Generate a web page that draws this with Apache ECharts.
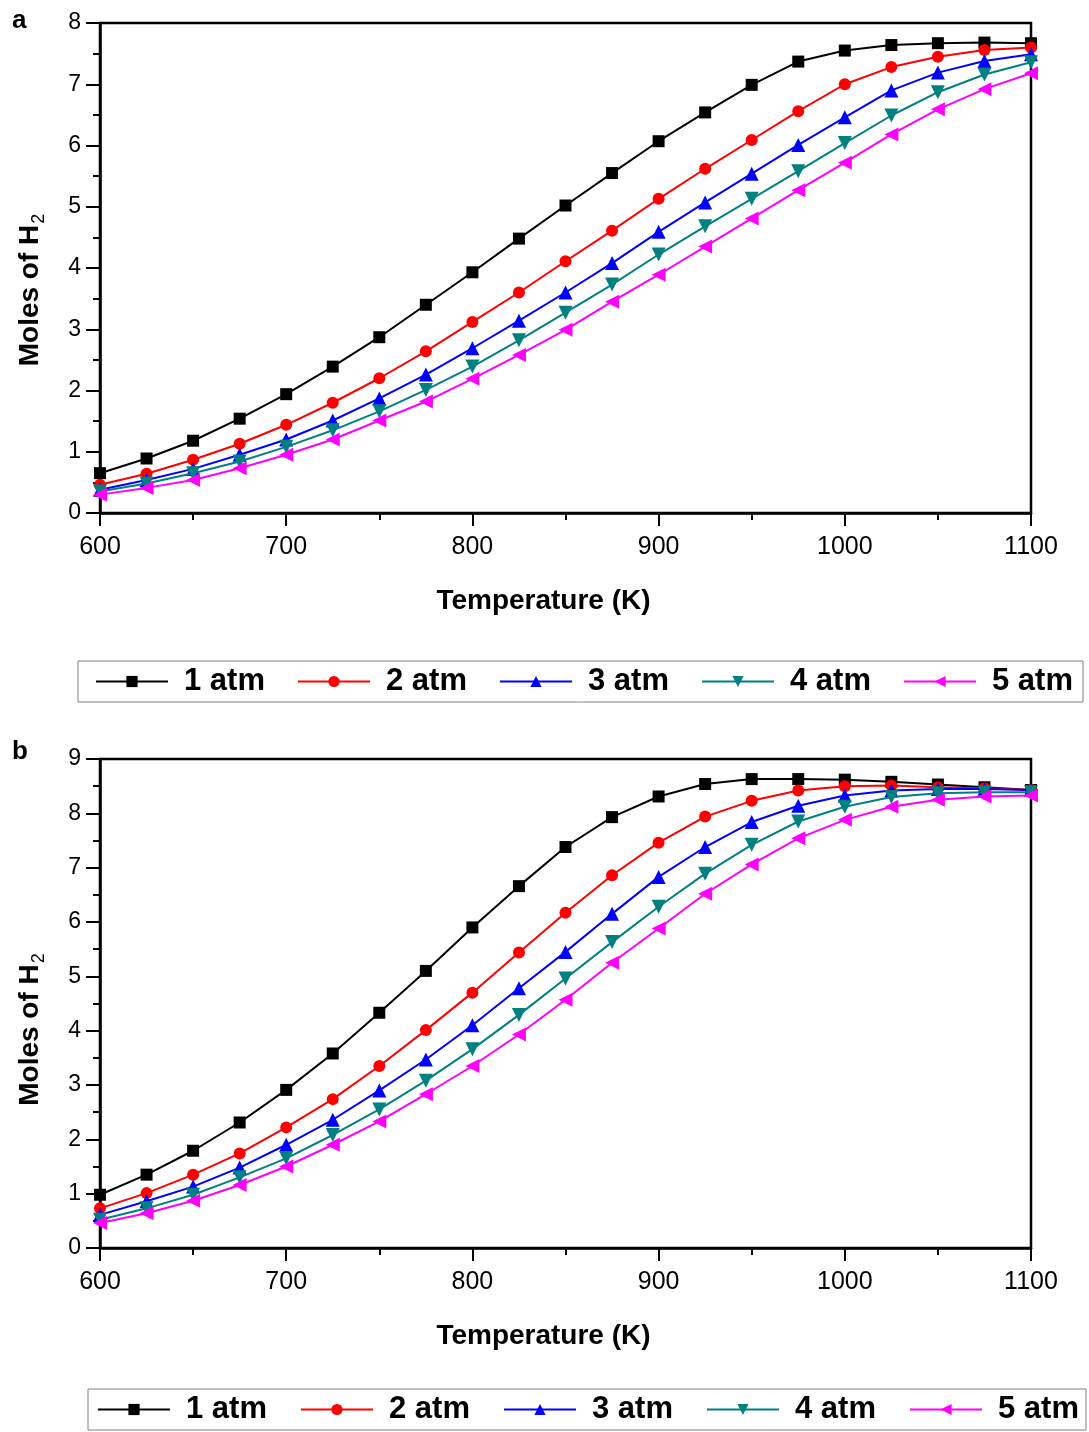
<!DOCTYPE html>
<html>
<head>
<meta charset="utf-8">
<script src="https://cdn.jsdelivr.net/npm/echarts@6/dist/echarts.min.js"></script>
<style>
html,body{margin:0;padding:0;background:#fff;}
#chart{width:1089px;height:1432px;}
</style>
</head>
<body>
<div id="chart"></div>
<script>
// ---- data ----
const temps = [600,625,650,675,700,725,750,775,800,825,850,875,900,925,950,975,1000,1025,1050,1075,1100];
const seriesNames = ['1 atm','2 atm','3 atm','4 atm','5 atm'];
const xTicks = [600,700,800,900,1000,1100];
const yTicksA = [0,1,2,3,4,5,6,7,8];
const yTicksB = [0,1,2,3,4,5,6,7,8,9];

// panel a
const a1 = [0.65,0.89,1.18,1.54,1.94,2.39,2.87,3.40,3.93,4.48,5.02,5.55,6.07,6.54,6.99,7.37,7.55,7.64,7.67,7.68,7.67];
const a2 = [0.46,0.64,0.87,1.13,1.44,1.80,2.20,2.64,3.12,3.60,4.11,4.61,5.13,5.62,6.09,6.56,7.00,7.28,7.45,7.56,7.60];
const a3 = [0.38,0.54,0.72,0.95,1.20,1.51,1.87,2.26,2.69,3.14,3.60,4.08,4.59,5.07,5.54,6.01,6.46,6.90,7.19,7.38,7.49];
const a4 = [0.35,0.48,0.65,0.84,1.08,1.35,1.66,2.01,2.39,2.82,3.27,3.73,4.22,4.68,5.13,5.58,6.04,6.49,6.87,7.16,7.36];
const a5 = [0.30,0.41,0.54,0.73,0.95,1.20,1.51,1.82,2.19,2.58,2.99,3.45,3.89,4.35,4.81,5.27,5.72,6.18,6.59,6.92,7.18];

// panel b
const b1 = [0.98,1.35,1.79,2.31,2.91,3.58,4.33,5.10,5.90,6.66,7.38,7.93,8.31,8.54,8.63,8.63,8.62,8.58,8.53,8.48,8.43];
const b2 = [0.73,1.01,1.35,1.74,2.22,2.74,3.35,4.01,4.70,5.44,6.17,6.86,7.46,7.94,8.23,8.42,8.50,8.51,8.48,8.46,8.43];
const b3 = [0.61,0.86,1.13,1.48,1.90,2.36,2.90,3.47,4.10,4.78,5.45,6.15,6.83,7.38,7.84,8.14,8.33,8.42,8.45,8.45,8.43];
const b4 = [0.52,0.73,0.98,1.30,1.65,2.08,2.55,3.08,3.66,4.29,4.96,5.63,6.28,6.89,7.42,7.85,8.12,8.30,8.37,8.39,8.39];
const b5 = [0.46,0.64,0.87,1.16,1.50,1.90,2.33,2.83,3.35,3.93,4.57,5.25,5.88,6.52,7.06,7.54,7.88,8.12,8.25,8.31,8.33];

// ---- styling ----
const FONT = '"Liberation Sans", Arial, Helvetica, sans-serif';
const colors = ['#000000','#ff0000','#0000ff','#008080','#ff00ff'];
const symbols = ['rect','circle','triangle','triangle','triangle'];
const symbolRot = [0,0,0,180,90];
const symbolSizes = [12,12,14,14,14];

function pairs(vals){ return temps.map((t,i)=>[t, vals[i]]); }

function makeSeries(list, gi){
  return list.map((vals,i)=>({
    name: seriesNames[i],
    type: 'line',
    xAxisIndex: gi, yAxisIndex: gi,
    data: pairs(vals),
    symbol: symbols[i],
    symbolRotate: symbolRot[i],
    symbolSize: symbolSizes[i],
    showAllSymbol: true,
    color: colors[i],
    lineStyle: {color: colors[i], width: 2},
    itemStyle: {color: colors[i]},
    emphasis: {disabled: true},
    z: 2 + i
  }));
}

function xAxis(gi){
  return {
    type: 'value', gridIndex: gi, min: 600, max: 1100, interval: 100,
    name: 'Temperature (K)', nameLocation: 'middle', nameGap: 74,
    nameTextStyle: {fontFamily: FONT, fontSize: 28, fontWeight: 'bold', color: '#000', padding: [0, 44, 0, 0]},
    axisLine: {show: true, onZero: false, lineStyle: {color: '#000', width: 2.5}},
    axisTick: {show: true, length: 13, lineStyle: {color: '#000', width: 2}},
    minorTick: {show: true, splitNumber: 2, length: 7, lineStyle: {color: '#000', width: 2}},
    splitLine: {show: false},
    axisLabel: {fontFamily: FONT, fontSize: 25, color: '#000', margin: 22,
      formatter: v => xTicks.indexOf(v) >= 0 ? String(v) : ''}
  };
}

function yAxis(gi, max, ticks, shift){
  return {
    type: 'value', gridIndex: gi, min: 0, max: max, interval: 1,
    name: '{a|Moles of H}{b|2}', nameLocation: 'middle', nameGap: 52, nameRotate: 90,
    nameTextStyle: {
      padding: [0, shift, 0, 0],
      rich: {
        a: {fontFamily: FONT, fontSize: 28, fontWeight: 'bold', color: '#000', lineHeight: 32, verticalAlign: 'top'},
        b: {fontFamily: FONT, fontSize: 18, fontWeight: 'normal', color: '#000', lineHeight: 20, padding: [22, 0, 0, 1], verticalAlign: 'bottom'}
      }
    },
    axisLine: {show: true, onZero: false, lineStyle: {color: '#000', width: 2.5}},
    axisTick: {show: true, length: 14, lineStyle: {color: '#000', width: 2}},
    minorTick: {show: true, splitNumber: 2, length: 7, lineStyle: {color: '#000', width: 2}},
    splitLine: {show: false},
    axisLabel: {fontFamily: FONT, fontSize: 23, color: '#000', margin: 19,
      formatter: v => ticks.indexOf(v) >= 0 ? String(v) : ''}
  };
}

function legend(left, top, padLeft, padRight, gap){
  return {
    data: seriesNames, orient: 'horizontal', left: left, top: top,
    width: 1010,
    padding: [5, padRight, 5, padLeft],
    itemWidth: 72, itemHeight: 14, itemGap: gap,
    borderColor: '#808080', borderWidth: 1,
    selectedMode: false,
    textStyle: {fontFamily: FONT, fontSize: 31, fontWeight: 'bold', color: '#000', lineHeight: 31, padding: [0, 0, 0, 11], width: 85}
  };
}

const chart = echarts.init(document.getElementById('chart'), null, {renderer: 'canvas'});
chart.setOption({
  animation: false,
  backgroundColor: '#ffffff',
  grid: [
    {left: 97, right: 58, top: 23, height: 490, show: true, borderColor: '#000', borderWidth: 2.5, backgroundColor: 'transparent'},
    {left: 97, right: 58, top: 759, height: 489, show: true, borderColor: '#000', borderWidth: 2.5, backgroundColor: 'transparent'}
  ],
  xAxis: [xAxis(0), xAxis(1)],
  yAxis: [yAxis(0, 8, yTicksA, 44), yAxis(1, 9, yTicksB, 52)],
  legend: [legend(78, 661, 17, 6, 28), legend(88, 1389, 9, 3, 29)],
  graphic: [
    {type: 'text', left: 12, top: 8, style: {text: 'a', fontFamily: FONT, fontSize: 26, fontWeight: 'bold', fill: '#000'}},
    {type: 'text', left: 12, top: 739, style: {text: 'b', fontFamily: FONT, fontSize: 26, fontWeight: 'bold', fill: '#000'}}
  ],
  series: makeSeries([a1,a2,a3,a4,a5], 0).concat(makeSeries([b1,b2,b3,b4,b5], 1))
});
</script>
</body>
</html>
